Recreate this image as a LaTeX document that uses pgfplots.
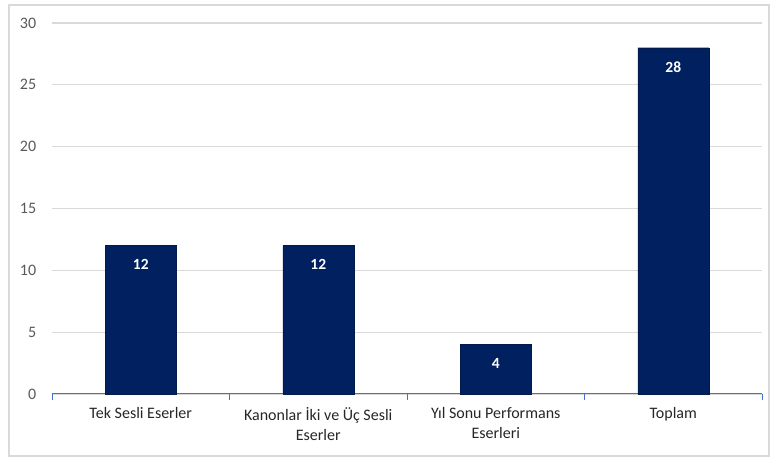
\documentclass[border=0pt]{standalone}
\usepackage{pgfplots}
\pgfplotsset{compat=1.18}
\usepackage{fontspec}
\setmainfont{Carlito}
\definecolor{barblue}{HTML}{002060}
\definecolor{axblue}{HTML}{4472C4}
\definecolor{txtgray}{HTML}{595959}
\definecolor{gridgray}{HTML}{D9D9D9}
\begin{document}
\begin{tikzpicture}[x=1pt,y=1pt]
\useasboundingbox (0,0) rectangle (770,457);
\draw[gridgray, line width=1.2pt] (9,1) rectangle (769,452);
\begin{axis}[
  at={(52pt,63pt)}, anchor=south west,
  scale only axis, width=710pt, height=371pt,
  xmin=-0.5, xmax=3.5, ymin=0, ymax=30,
  ybar, bar width=71pt,
  axis x line*=bottom, axis y line*=left,
  y axis line style={draw=none},
  x axis line style={draw=axblue, line width=1pt, -},
  xtick={0,1,2,3},
  xticklabels={Tek Sesli Eserler, {Kanonlar İki ve Üç Sesli\\Eserler}, {Yıl Sonu Performans\\Eserleri}, Toplam},
  x tick label style={align=center, font=\fontsize{16}{19.5}\selectfont, text=black!85, yshift=-6pt},
  major x tick style={draw=none},
  minor xtick={-0.5,0.5,1.5,2.5,3.5},
  minor x tick style={draw=axblue, line width=1pt},
  minor tick length=6pt, tick align=outside,
  ytick={0,5,...,30},
  ytick style={draw=none},
  y tick label style={font=\fontsize{16}{18}\selectfont, text=txtgray, xshift=-8pt},
  /pgf/number format/assume math mode=true,
  ymajorgrids, grid style={gridgray, line width=1.3pt},
  nodes near coords,
  every node near coord/.append style={anchor=center, yshift=-19pt, text=white, font=\bfseries\fontsize{15.5}{17}\selectfont},
  clip=false,
]
\addplot[fill=barblue, draw=barblue!80!black] coordinates {(0,12) (1,12) (2,4) (3,28)};
\end{axis}
\end{tikzpicture}
\end{document}
